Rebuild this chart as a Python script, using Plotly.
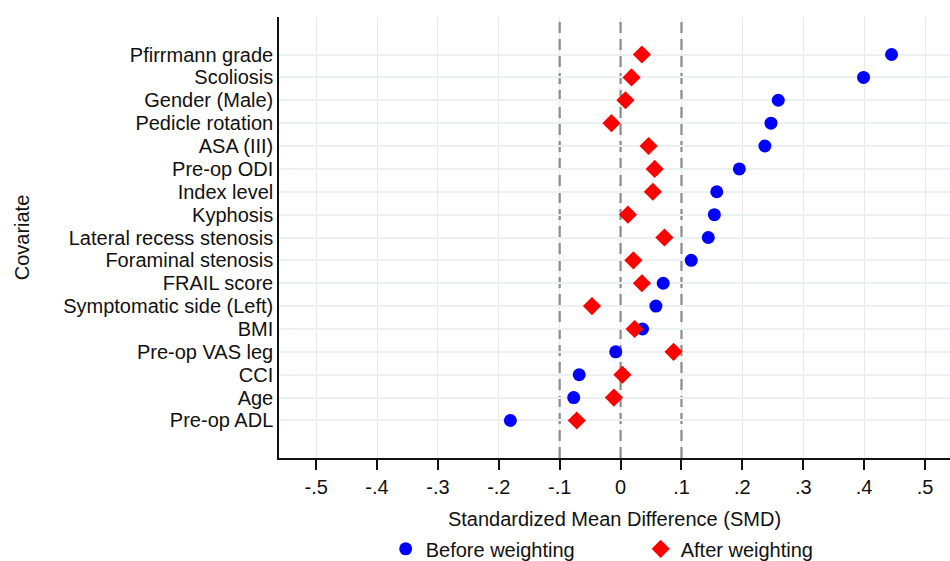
import plotly.graph_objects as go

covariates = ["Pfirrmann grade", "Scoliosis", "Gender (Male)", "Pedicle rotation",
              "ASA (III)", "Pre-op ODI", "Index level", "Kyphosis",
              "Lateral recess stenosis", "Foraminal stenosis", "FRAIL score",
              "Symptomatic side (Left)", "BMI", "Pre-op VAS leg", "CCI", "Age",
              "Pre-op ADL"]
smd_before = [0.445, 0.399, 0.259, 0.247, 0.237, 0.195, 0.158, 0.154,
              0.144, 0.116, 0.070, 0.058, 0.036, -0.008, -0.068, -0.077, -0.181]
smd_after = [0.035, 0.018, 0.008, -0.015, 0.046, 0.056, 0.053, 0.012,
             0.072, 0.021, 0.035, -0.047, 0.023, 0.087, 0.003, -0.011, -0.072]
x_ticks = [-0.5, -0.4, -0.3, -0.2, -0.1, 0, 0.1, 0.2, 0.3, 0.4, 0.5]
x_tick_labels = ["-.5", "-.4", "-.3", "-.2", "-.1", "0", ".1", ".2", ".3", ".4", ".5"]
ref_lines = [-0.1, 0, 0.1]

FONT = "Arial, Liberation Sans, sans-serif"

fig = go.Figure()
fig.add_trace(go.Scatter(
    x=smd_before, y=covariates, mode="markers", name="Before weighting",
    marker=dict(symbol="circle", size=13, color="#0000ff"),
))
fig.add_trace(go.Scatter(
    x=smd_after, y=covariates, mode="markers", name="After weighting",
    marker=dict(symbol="diamond", size=14, color="#ff0000"),
))

for v in ref_lines:
    fig.add_shape(type="line", xref="x", yref="paper", x0=v, x1=v, y0=0, y1=1,
                  line=dict(color="#9b9b9b", width=2.4, dash="11px,6px"), layer="between")

fig.update_layout(
    width=950, height=561,
    margin=dict(l=279, r=0, t=17, b=103, autoexpand=False),
    paper_bgcolor="white", plot_bgcolor="white",
    font=dict(family=FONT, size=20, color="#111111"),
    showlegend=True,
    legend=dict(orientation="h", x=0.159, xanchor="left", y=-0.206, yanchor="middle",
                entrywidth=210, entrywidthmode="pixels",
                font=dict(family=FONT, size=20, color="#111111"),
                bgcolor="rgba(0,0,0,0)"),
)

fig.update_xaxes(
    range=[-0.561, 0.541], tickvals=x_ticks, ticktext=x_tick_labels,
    showgrid=True, gridcolor="rgba(0,0,0,0.09)", gridwidth=1, zeroline=False,
    showline=True, linecolor="#111111", linewidth=1.5,
    ticks="outside", ticklen=10, tickwidth=1.5, tickcolor="#111111",
    ticklabelstandoff=0, automargin=False,
    title=dict(text="Standardized Mean Difference (SMD)", standoff=15,
               font=dict(family=FONT, size=20, color="#111111")),
)
fig.update_yaxes(
    type="category", categoryorder="array", categoryarray=covariates,
    tickmode="array", tickvals=covariates, ticktext=covariates,
    range=[17.64, -1.64],
    showgrid=True, gridcolor="#e9f1f3", gridwidth=2, zeroline=False,
    showline=True, linecolor="#111111", linewidth=1.5,
    ticks="", ticklabelstandoff=0, automargin=False,
    title=dict(text="Covariate", standoff=28,
               font=dict(family=FONT, size=20, color="#111111")),
)

fig.write_html("out.html")
